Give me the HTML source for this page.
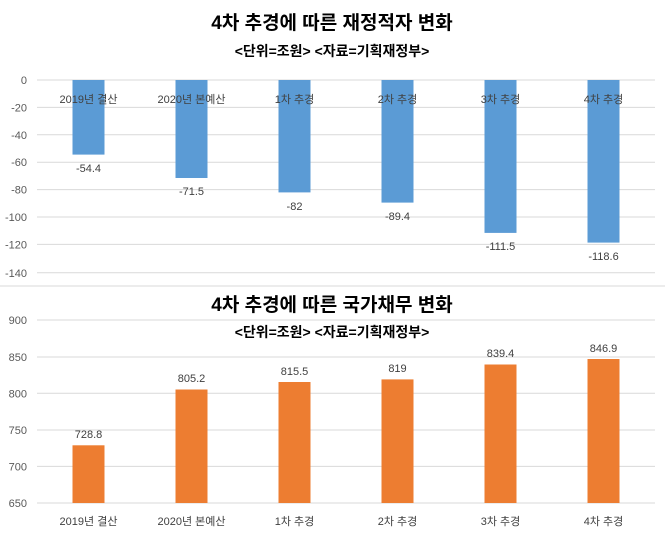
<!DOCTYPE html>
<html><head><meta charset="utf-8"><style>
body{margin:0;background:#fff}
text{font-family:"Liberation Sans","Noto Sans CJK KR",sans-serif}
</style></head><body>
<svg width="665" height="535" xmlns="http://www.w3.org/2000/svg">
<rect width="665" height="535" fill="#fff"/>
<line x1="0" y1="286" x2="665" y2="286" stroke="#d9d9d9" stroke-width="1"/>
<text x="332" y="29" text-anchor="middle" font-size="19" font-weight="bold" fill="#000">4차 추경에 따른 재정적자 변화</text>
<text x="332" y="56" text-anchor="middle" font-size="14" font-weight="bold" fill="#000">&lt;단위=조원&gt; &lt;자료=기획재정부&gt;</text>
<g stroke="#d9d9d9" stroke-width="1">
<line x1="37" y1="80" x2="655" y2="80"/><line x1="37" y1="107.4" x2="655" y2="107.4"/><line x1="37" y1="134.8" x2="655" y2="134.8"/><line x1="37" y1="162.2" x2="655" y2="162.2"/><line x1="37" y1="189.6" x2="655" y2="189.6"/><line x1="37" y1="217" x2="655" y2="217"/><line x1="37" y1="244.4" x2="655" y2="244.4"/><line x1="37" y1="272.8" x2="655" y2="272.8"/>
</g>
<g font-size="11" fill="#595959" text-anchor="end">
<text x="27" y="84">0</text><text x="27" y="111.4">-20</text><text x="27" y="138.8">-40</text><text x="27" y="166.2">-60</text><text x="27" y="193.6">-80</text><text x="27" y="221">-100</text><text x="27" y="248.4">-120</text><text x="27" y="276.8">-140</text>
</g>
<g fill="#5b9bd5">
<rect x="72.5" y="80" width="32" height="74.6"/><rect x="175.5" y="80" width="32" height="98"/><rect x="278.5" y="80" width="32" height="112.4"/><rect x="381.5" y="80" width="32" height="122.6"/><rect x="484.5" y="80" width="32" height="152.9"/><rect x="587.5" y="80" width="32" height="162.6"/>
</g>
<g font-size="11" fill="#404040" text-anchor="middle">
<text x="88.5" y="103">2019년 결산</text><text x="191.5" y="103">2020년 본예산</text><text x="294.5" y="103">1차 추경</text><text x="397.5" y="103">2차 추경</text><text x="500.5" y="103">3차 추경</text><text x="603.5" y="103">4차 추경</text>
<text x="88.5" y="172">-54.4</text><text x="191.5" y="195">-71.5</text><text x="294.5" y="210">-82</text><text x="397.5" y="220">-89.4</text><text x="500.5" y="250">-111.5</text><text x="603.5" y="260">-118.6</text>
</g>
<text x="332" y="311" text-anchor="middle" font-size="19" font-weight="bold" fill="#000">4차 추경에 따른 국가채무 변화</text>
<text x="332" y="337" text-anchor="middle" font-size="14" font-weight="bold" fill="#000">&lt;단위=조원&gt;  &lt;자료=기획재정부&gt;</text>
<g stroke="#d9d9d9" stroke-width="1">
<line x1="37" y1="320" x2="655" y2="320"/><line x1="37" y1="357" x2="655" y2="357"/><line x1="37" y1="393.3" x2="655" y2="393.3"/><line x1="37" y1="430" x2="655" y2="430"/><line x1="37" y1="466.4" x2="655" y2="466.4"/><line x1="37" y1="503" x2="655" y2="503"/>
</g>
<g font-size="11" fill="#595959" text-anchor="end">
<text x="27" y="324">900</text><text x="27" y="361">850</text><text x="27" y="397.3">800</text><text x="27" y="434">750</text><text x="27" y="470.4">700</text><text x="27" y="507">650</text>
</g>
<g fill="#ed7d31">
<rect x="72.5" y="445.3" width="32" height="57.7"/><rect x="175.5" y="389.5" width="32" height="113.5"/><rect x="278.5" y="382" width="32" height="121"/><rect x="381.5" y="379.4" width="32" height="123.6"/><rect x="484.5" y="364.5" width="32" height="138.5"/><rect x="587.5" y="359" width="32" height="144"/>
</g>
<g font-size="11" fill="#404040" text-anchor="middle">
<text x="88.5" y="438">728.8</text><text x="191.5" y="382">805.2</text><text x="294.5" y="375">815.5</text><text x="397.5" y="372">819</text><text x="500.5" y="357">839.4</text><text x="603.5" y="352">846.9</text>
<text x="88.5" y="525">2019년 결산</text><text x="191.5" y="525">2020년 본예산</text><text x="294.5" y="525">1차 추경</text><text x="397.5" y="525">2차 추경</text><text x="500.5" y="525">3차 추경</text><text x="603.5" y="525">4차 추경</text>
</g>
</svg>
</body></html>
